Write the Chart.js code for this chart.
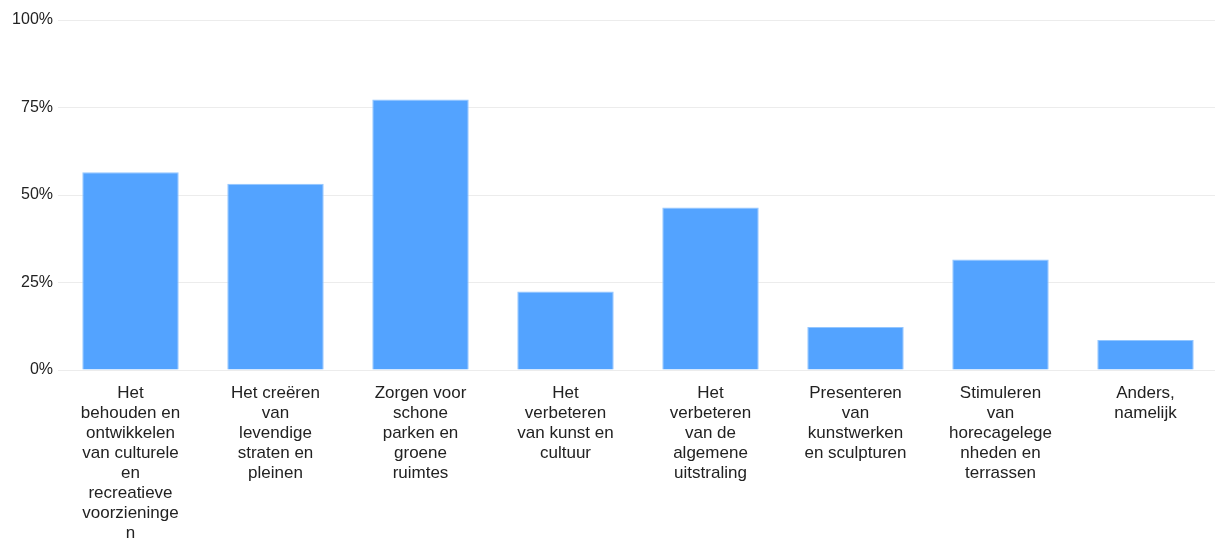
<!DOCTYPE html>
<html>
<head>
<meta charset="utf-8">
<script src="https://cdn.jsdelivr.net/npm/chart.js@4"></script>
<style>
  html, body { margin: 0; padding: 0; background: #fff; overflow: hidden; }
  #wrap { width: 1218px; height: 541px; }
</style>
</head>
<body>
<div id="wrap"><canvas id="answerChart"></canvas></div>
<script>
// categorieën, handmatig afgebroken zoals in het origineel
const categories = [
    ["Het", "behouden en", "ontwikkelen", "van culturele", "en", "recreatieve", "voorzieninge", "n"],
    ["Het creëren", "van", "levendige", "straten en", "pleinen"],
    ["Zorgen voor", "schone", "parken en", "groene", "ruimtes"],
    ["Het", "verbeteren", "van kunst en", "cultuur"],
    ["Het", "verbeteren", "van de", "algemene", "uitstraling"],
    ["Presenteren", "van", "kunstwerken", "en sculpturen"],
    ["Stimuleren", "van", "horecagelege", "nheden en", "terrassen"],
    ["Anders,", "namelijk"]
];
const percentages = [56.5, 53.2, 77.3, 22.4, 46.4, 12.3, 31.6, 8.6];
const yTicks = [0, 25, 50, 75, 100];

const ctx = document.getElementById("answerChart").getContext("2d");
new Chart(ctx, {
    type: "bar",
    data: {
        labels: categories,
        datasets: [{
            data: percentages,
            backgroundColor: "#53a3ff",
            borderColor: "#93c6ff",
            borderWidth: 1,
            categoryPercentage: 1,
            barPercentage: 0.665
        }]
    },
    options: {
        responsive: true,
        maintainAspectRatio: false,
        animation: false,
        layout: { padding: { top: 20, right: 0, left: 0, bottom: 0 } },
        plugins: {
            legend: { display: false },
            tooltip: { enabled: false }
        },
        scales: {
            x: {
                grid: { display: false, drawTicks: false },
                border: { display: false },
                ticks: {
                    autoSkip: false,
                    maxRotation: 0,
                    minRotation: 0,
                    padding: 13,
                    color: "#222",
                    font: { family: "'Liberation Sans', Arial, sans-serif", size: 17, lineHeight: 1.18 }
                },
                afterFit: function (scale) { scale.height = 171; }
            },
            y: {
                min: 0,
                max: 100,
                afterBuildTicks: function (scale) {
                    scale.ticks = yTicks.map(v => ({ value: v }));
                },
                grid: { color: "#ececec", drawTicks: false, lineWidth: 1 },
                border: { display: false },
                ticks: {
                    padding: 5,
                    color: "#222",
                    font: { family: "'Liberation Sans', Arial, sans-serif", size: 16 },
                    callback: v => v + "%"
                },
                afterFit: function (scale) { scale.width = 58; }
            }
        }
    }
});
</script>
</body>
</html>
